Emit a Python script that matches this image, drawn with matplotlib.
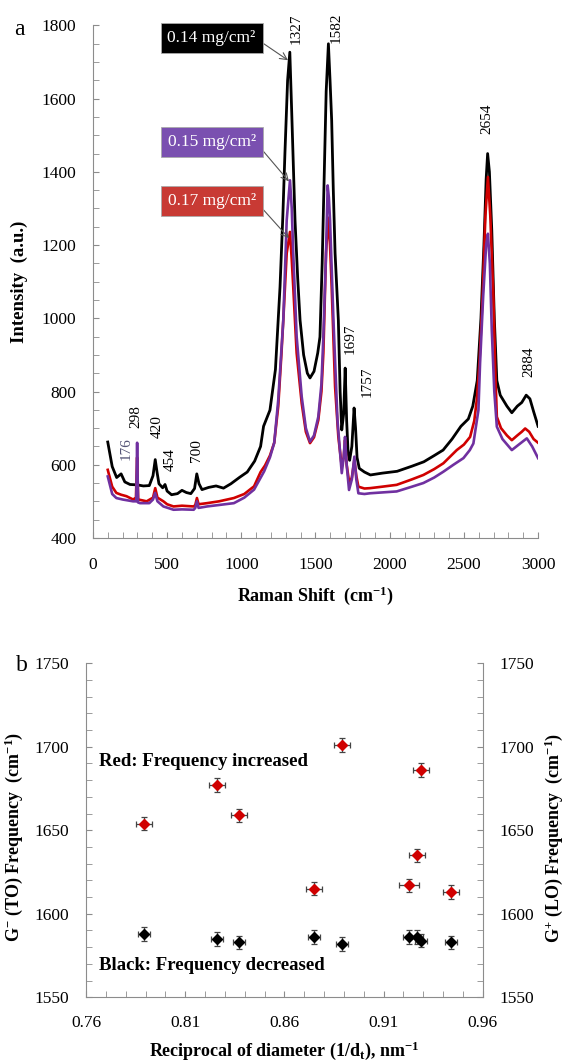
import matplotlib
matplotlib.use("Agg")
from matplotlib import pyplot as plt
from matplotlib.ticker import MultipleLocator, FixedLocator
import numpy as np

plt.rcParams['font.family'] = ['Liberation Serif', 'DejaVu Serif']
plt.rcParams['mathtext.fontset'] = 'custom'
plt.rcParams['mathtext.rm'] = 'Liberation Serif'
plt.rcParams['mathtext.bf'] = 'Liberation Serif:bold'
plt.rcParams['mathtext.it'] = 'Liberation Serif:italic'

# ---- panel a: Raman spectra ----
black_x = [100, 130, 160, 190, 215, 250, 298, 340, 380, 405, 420, 432, 445, 470, 486, 500, 530, 570, 600,
           630, 660, 685, 700, 715, 735, 780, 830, 880, 930, 990, 1040, 1090, 1130, 1150, 1193, 1230, 1261,
           1280, 1294, 1312, 1327, 1340, 1362, 1380, 1396, 1420, 1445, 1463, 1490, 1515, 1530, 1545, 1557,
           1572, 1587, 1598, 1609, 1620, 1632, 1654, 1666, 1677, 1690, 1700, 1710, 1720, 1730, 1745, 1760,
           1770, 1780, 1795, 1830, 1870, 1950, 2050, 2150, 2230, 2300, 2360, 2420, 2480, 2530, 2560, 2590,
           2615, 2635, 2650, 2660, 2672, 2688, 2705, 2722, 2745, 2790, 2823, 2860, 2890, 2920, 2945, 2970, 3000]
black_y = [662, 595, 565, 575, 553, 546, 545, 542, 543, 570, 614, 580, 548, 537, 546, 528, 518, 521, 530,
           524, 521, 535, 575, 548, 532, 538, 542, 536, 548, 566, 580, 610, 650, 705, 749, 860, 1086,
           1280, 1451, 1650, 1727, 1560, 1268, 1110, 995, 900, 850, 837, 855, 905, 949, 1150, 1359,
           1620, 1750, 1650, 1541, 1350, 1178, 995, 800, 695, 740, 864, 720, 630, 612, 650, 755,
           700, 620, 590, 580, 572, 577, 582, 596, 608, 625, 640, 670, 705, 725, 760, 830,
           1000, 1200, 1380, 1450, 1400, 1240, 1000, 830, 790, 760, 742, 760, 770, 790, 780, 745, 705]

red_x = [100, 130, 158, 190, 226, 271, 290, 298, 305, 340, 362, 405, 420, 435, 475, 500, 543, 600, 679, 690,
         701, 712, 769, 850, 950, 1020, 1086, 1130, 1160, 1193, 1222, 1249, 1270, 1283, 1306, 1328, 1340,
         1350, 1373, 1407, 1435, 1463, 1490, 1519, 1540, 1553, 1571, 1585, 1598, 1609, 1632, 1654, 1677,
         1690, 1699, 1710, 1728, 1745, 1762, 1775, 1789, 1830, 1868, 1950, 2047, 2150, 2227, 2300, 2362,
         2452, 2500, 2542, 2570, 2587, 2605, 2625, 2645, 2662, 2678, 2699, 2710, 2722, 2750, 2790, 2823,
         2860, 2890, 2913, 2940, 2970, 3000]
red_y = [586, 540, 523, 518, 514, 505, 510, 620, 505, 502, 500, 510, 536, 510, 500, 492, 486, 488, 486, 490,
         509, 492, 495, 500, 509, 520, 541, 580, 598, 625, 660, 760, 900, 995, 1178, 1236, 1160,
         1086, 905, 768, 690, 659, 675, 722, 800, 905, 1178, 1275, 1200, 1086, 813, 676, 595,
         620, 667, 600, 549, 565, 613, 570, 540, 535, 536, 540, 545, 560, 572, 588, 604,
         640, 655, 676, 720, 777, 880, 1050, 1280, 1386, 1280, 1059, 880, 731, 700, 680, 667,
         680, 690, 699, 690, 670, 660]

purple_x = [100, 130, 158, 200, 271, 292, 298, 304, 317, 380, 405, 419, 435, 475, 543, 600, 679, 690, 701,
            712, 769, 850, 950, 1020, 1086, 1154, 1193, 1222, 1249, 1283, 1306, 1328, 1340, 1350, 1373,
            1407, 1435, 1463, 1490, 1519, 1540, 1553, 1571, 1582, 1590, 1598, 1621, 1648, 1677, 1690,
            1699, 1710, 1726, 1745, 1762, 1775, 1789, 1830, 1868, 2047, 2150, 2227, 2300, 2362, 2430,
            2497, 2540, 2564, 2598, 2609, 2630, 2650, 2662, 2675, 2688, 2705, 2722, 2760, 2823, 2870,
            2924, 2960, 3000]
purple_y = [568, 520, 509, 505, 500, 500, 660, 497, 495, 495, 505, 523, 500, 486, 477, 478, 477, 482, 500,
            482, 486, 490, 495, 510, 532, 582, 620, 660, 777, 995, 1268, 1377, 1300, 1178, 950,
            786, 700, 663, 680, 731, 820, 950, 1178, 1363, 1330, 1268, 995, 722, 577, 620,
            676, 600, 531, 560, 622, 560, 522, 520, 522, 527, 540, 550, 565, 581, 600,
            618, 640, 658, 749, 877, 1060, 1200, 1231, 1150, 968, 800, 704, 670, 640, 655,
            672, 650, 618]

peak_labels = ['176', '298', '420', '454', '700', '1327', '1582', '1697', '1757', '2654', '2884']
peak_label_x = [227, 290, 434, 524, 699, 1373, 1638, 1737, 1845, 2654, 2935]
peak_label_y = [645, 731, 704, 613, 640, 1791, 1795, 945, 826, 1545, 881]

loadings = ['0.14 mg/cm²', '0.15 mg/cm²', '0.17 mg/cm²']
loading_arrow_to = [(1315, 1705), (1321, 1374), (1321, 1219)]
loading_box_y = [1765, 1481, 1320]

# ---- panel b: G-band frequency vs 1/d ----
red_d = [0.789, 0.826, 0.837, 0.875, 0.889, 0.923, 0.927, 0.929, 0.944]
red_f = [1654, 1677, 1659, 1615, 1701, 1617, 1635, 1686, 1613]
red_xerr = [0.004, 0.004, 0.004, 0.004, 0.004, 0.005, 0.004, 0.004, 0.004]
black_d = [0.789, 0.826, 0.837, 0.875, 0.889, 0.923, 0.927, 0.929, 0.944]
black_f = [1588, 1585, 1583, 1586, 1582, 1586, 1586, 1584, 1583]
black_xerr = [0.003, 0.003, 0.003, 0.003, 0.003, 0.003, 0.003, 0.003, 0.003]
f_err = 4

fig = plt.figure(figsize=(5.70, 10.61), dpi=100)
axis_gray = '#8c8c8c'

ax = fig.add_axes([0.163, 0.493, 0.781, 0.483])
ax.plot(black_x, black_y, color='black', lw=2.0)
ax.plot(red_x, red_y, color='#d00000', lw=1.9)
ax.plot(purple_x, purple_y, color='#7030a0', lw=1.9)
ax.set_xlim(0, 3000)
ax.set_ylim(400, 1800)
ax.xaxis.set_major_locator(MultipleLocator(500))
ax.xaxis.set_minor_locator(MultipleLocator(100))
ax.yaxis.set_major_locator(MultipleLocator(200))
ax.yaxis.set_minor_locator(MultipleLocator(50))
for s in ['top', 'right']:
    ax.spines[s].set_visible(False)
for s in ['left', 'bottom']:
    ax.spines[s].set_color(axis_gray)
ax.tick_params(which='both', direction='in', length=4, color=axis_gray, labelsize=12.5)
ax.tick_params(axis='y', pad=12)
ax.tick_params(axis='x', pad=14)
ax.set_xlabel('Raman Shift  (cm$^{\\mathbf{-1}}$)', fontsize=13, fontweight='bold', labelpad=8)
ax.set_ylabel('Intensity  (a.u.)', fontsize=13.5, fontweight='bold')
ax.yaxis.set_label_coords(-0.146, 0.5)

for t, x, y in zip(peak_labels, peak_label_x, peak_label_y):
    ax.text(x, y, t, rotation=90, ha='center', va='center', fontsize=11,
            color='#555577' if t == '176' else 'black')

box_colors = ['black', '#7a50b0', '#c83a34']
for lab, (px, py), bc, by in zip(loadings, loading_arrow_to, box_colors, loading_box_y):
    ax.annotate(lab, xy=(px, py), xytext=(800, by), textcoords='data',
                ha='center', va='center', fontsize=12.5, color='white',
                bbox=dict(boxstyle='square,pad=0.4', fc=bc, ec='#aaaaaa', lw=0.6),
                arrowprops=dict(arrowstyle='->', color='#555555', lw=0.8,
                                shrinkA=0, shrinkB=0, relpos=(1, 0.5)))
fig.text(0.025, 0.972, 'a', fontsize=17, va='center')

# ---- panel b ----
bx = fig.add_axes([0.151, 0.060, 0.696, 0.315])
bx.errorbar(red_d, red_f, xerr=red_xerr, yerr=f_err, fmt='D', color='#d00000', ms=5.5,
            ecolor='#444444', elinewidth=0.9, capsize=2, capthick=0.9)
bx.errorbar(black_d, black_f, xerr=black_xerr, yerr=f_err, fmt='D', color='black', ms=5.5,
            ecolor='#444444', elinewidth=0.9, capsize=2, capthick=0.9)
bx.set_xlim(0.76, 0.96)
bx.set_ylim(1550, 1750)
bx.xaxis.set_major_locator(FixedLocator([0.76, 0.81, 0.86, 0.91, 0.96]))
bx.xaxis.set_minor_locator(FixedLocator(np.round(np.arange(0.76, 0.9601, 0.01), 2)))
bx.set_xticklabels(['0.76', '0.81', '0.86', '0.91', '0.96'])
bx.yaxis.set_major_locator(MultipleLocator(50))
bx.yaxis.set_minor_locator(MultipleLocator(10))
bx.spines['top'].set_visible(False)
for s in ['left', 'bottom', 'right']:
    bx.spines[s].set_color(axis_gray)
bx.tick_params(which='both', direction='in', length=4, color=axis_gray, labelsize=12.5,
               right=True, labelright=True)
bx.tick_params(axis='y', pad=12)
bx.tick_params(axis='x', pad=13)
bx.set_xlabel('Reciprocal of diameter (1/d$_\\mathbf{t}$), nm$^{\\mathbf{-1}}$', fontsize=13,
              fontweight='bold', labelpad=6)
bx.set_ylabel('G$^{\\mathbf{-}}$ (TO) Frequency  (cm$^{\\mathbf{-1}}$)', fontsize=13,
              fontweight='bold')
bx.yaxis.set_label_coords(-0.155, 0.48)
fig.text(0.972, 0.21, 'G$^{\\mathbf{+}}$ (LO) Frequency  (cm$^{\\mathbf{-1}}$)', fontsize=13,
         fontweight='bold', rotation=90, ha='center', va='center')
bx.text(0.7665, 1691, 'Red: Frequency increased', fontsize=13.5, fontweight='bold', va='center')
bx.text(0.7665, 1569, 'Black: Frequency decreased', fontsize=13.5, fontweight='bold', va='center')
fig.text(0.028, 0.373, 'b', fontsize=17, va='center')

fig.savefig('out.png', dpi=100)
